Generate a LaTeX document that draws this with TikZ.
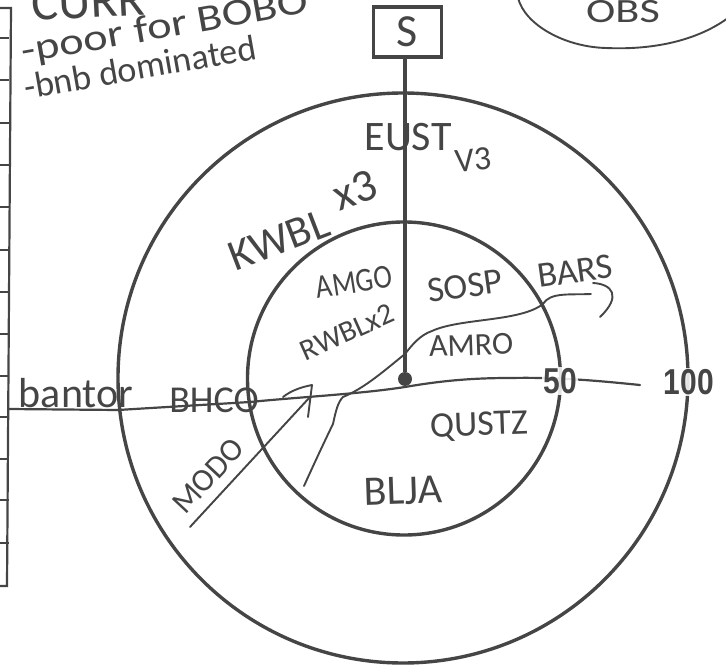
\documentclass[tikz,border=0pt]{standalone}
\usepackage{graphicx}
\usepackage{fontspec}
\setmainfont{Carlito}
\newfontfamily\numfont{Liberation Sans}
\definecolor{ink}{HTML}{454545}
\newcommand{\fs}[1]{\fontsize{#1}{#1}\selectfont}
\newcommand{\tall}[1]{\scalebox{1}[1.2]{#1}}
\tikzset{
  ring/.style={circle,draw=ink,line width=3.4pt,minimum size=#1,inner sep=0pt},
  pen/.style={draw=ink,line width=1.9pt,line cap=round,line join=round},
  heavy/.style={draw=ink,line width=2.4pt},
  hand/.style={text=ink,inner sep=0pt},
  scale label/.style={text=ink,font=\numfont\bfseries\fs{30},fill=white,inner sep=1pt,fill opacity=0.85,text opacity=1}
}
\begin{document}
\begin{tikzpicture}[x=1pt,y=-1pt]
\useasboundingbox (0,0) rectangle (726,668);
\clip (0,0) rectangle (726,668);
% ruled column at the left edge
\draw[heavy,line width=2.2pt] (-5,8) -- (11,8) -- (7,586) -- (-5,586);
\foreach \yy in {38,80,123,165,207,250,292,334,376,417,459,500,543}
  \draw[ink,line width=1.7pt] (-5,\yy) -- (9,\yy);
% rings
\node[ring=570pt] (outer) at (403,378) {};
\node[ring=313pt] (inner) at (404,378.5) {};
% station box, spoke and centre
\node[draw=ink,line width=3.2pt,minimum width=68pt,minimum height=50pt,inner sep=0pt,text=ink,font=\fs{46}] (S) at (407.5,32) {S};
\node[circle,fill=ink,minimum size=14pt,inner sep=0pt] (centre) at (405,379) {};
\draw[ink,line width=3.6pt] (S.south -| centre) -- (centre);
% ellipse in the top right corner
\coordinate (ea) at (518,-2);
\coordinate (eb) at (606,48);
\coordinate (ec) at (728,18);
\draw[pen] (ea) .. controls (525,25) and (565,47) .. (eb) .. controls (650,50) and (695,42) .. (ec);
% hand-drawn curves
\coordinate (ha) at (8,409);
\coordinate (hb) at (250,402);
\coordinate (hc) at (405,387);
\coordinate (hd) at (510,378);
\coordinate (he) at (640,385);
\draw[pen,line width=2.2pt] (ha) -- (118,410) -- (hb) .. controls (300,397) and (360,394) .. (hc) .. controls (440,381) and (470,378) .. (hd) .. controls (560,377) and (600,381) .. (he);
\coordinate (ca) at (304,486);
\coordinate (cb) at (343,397);
\coordinate (cc) at (405,354);
\coordinate (cd) at (432,331);
\coordinate (ce) at (543,304);
\coordinate (cf) at (591,294);
\draw[pen] (ca) .. controls (318,455) and (330,430) .. (333,424) .. controls (336,410) and (338,402) .. (cb) .. controls (365,388) and (385,370) .. (cc) .. controls (412,345) and (420,335) .. (cd) .. controls (460,318) and (520,322) .. (ce) .. controls (550,292) and (570,295) .. (cf);
\coordinate (hka) at (593,283);
\coordinate (hkb) at (600,317);
\draw[pen] (hka) .. controls (612,284) and (622,296) .. (hkb);
% MODO arrow
\coordinate (ma) at (190,527);
\coordinate (mb) at (310,397);
\draw[pen] (ma) -- (mb);
\coordinate (aa) at (283,397);
\coordinate (ab) at (312,385);
\coordinate (ac) at (308,417);
\draw[pen] (aa) .. controls (292,390) and (302,387) .. (ab) -- (ac);
% scale labels
\node[scale label] (l50) at (560,381) {\tall{50}};
\node[scale label] (l100) at (689,382) {\tall{100}};
% handwriting
\node[hand,font=\fs{34}] (obs) at (623,12) {\scalebox{1.3}[1]{OBS}};
\node[hand,font=\fs{50},rotate=3] (curr) at (88,2) {CURR};
\node[hand,font=\fs{38},rotate=10] (poor) at (165,28) {\scalebox{1.22}[1]{-poor for BOBO}};
\node[hand,font=\fs{36},rotate=10] (bnb) at (140,67) {-bnb dominated};
\node[hand,font=\fs{42}] (eust) at (408,137) {EUST};
\node[hand,font=\fs{34},rotate=5] (v3) at (473,160) {V3};
\node[hand,font=\fs{44},rotate=21] (kwbl) at (279,240) {KWBL};
\node[hand,font=\fs{46},rotate=20] (x3) at (355,190) {x3};
\node[hand,font=\fs{28},rotate=9] (amgo) at (354,282) {\tall{AMGO}};
\node[hand,font=\fs{30},rotate=24] (rwbl) at (347,332) {RWBLx2};
\node[hand,font=\fs{36},rotate=8] (sosp) at (465,286) {SOSP};
\node[hand,font=\fs{36},rotate=8] (bars) at (575,271) {BARS};
\node[hand,font=\fs{32},rotate=2] (amro) at (471,345) {AMRO};
\node[hand,font=\fs{36},rotate=2] (qustz) at (479,426) {QUSTZ};
\node[hand,font=\fs{42},rotate=2] (blja) at (403,491) {BLJA};
\node[hand,font=\fs{32},rotate=47] (modo) at (208,476) {MODO};
\node[hand,font=\fs{42}] (bantor) at (76,393) {bantor};
\node[hand,font=\fs{38}] (bhco) at (214,400) {BHCO};
\end{tikzpicture}
\end{document}
